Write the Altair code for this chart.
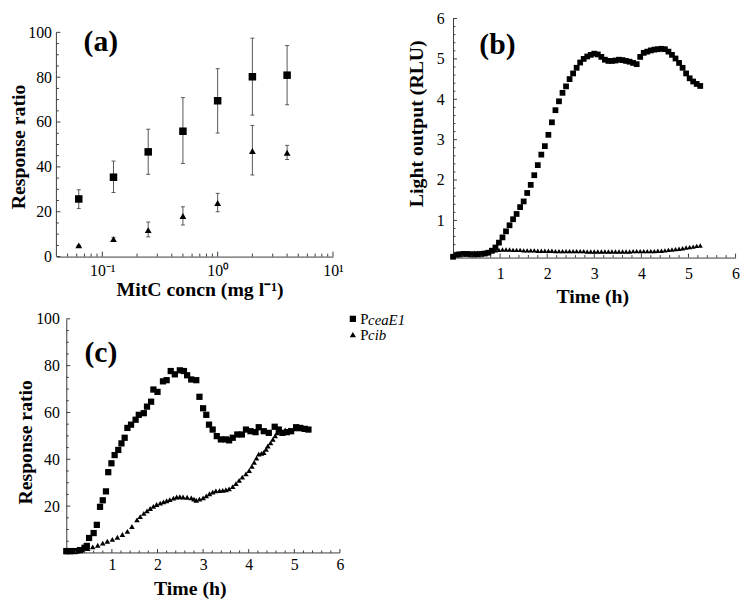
import altair as alt
import pandas as pd

FONT = "Liberation Serif"
AXC = "#3a3a3a"
BAR = "#555555"

# ---------------- panel (a) ----------------
MITC = [0.0625, 0.125, 0.25, 0.5, 1, 2, 4]
A_CEA = [25.7, 35.4, 46.7, 55.9, 69.5, 80.2, 80.9]
A_CEA_LO = [21.4, 28.6, 36.7, 41.5, 55.1, 63.1, 67.7]
A_CEA_HI = [29.8, 42.6, 56.8, 70.9, 83.8, 97.4, 94.1]
A_CIB = [5.0, 7.8, 11.8, 18.1, 23.9, 47.1, 46.3]
A_CIB_LO = [5.0, 7.0, 8.8, 14.1, 20.0, 36.4, 43.3]
A_CIB_HI = [5.0, 8.6, 15.4, 22.2, 28.2, 58.5, 49.6]

# ---------------- panel (b) ----------------
TIME_B = [0.0, 0.075, 0.15, 0.225, 0.3, 0.375, 0.45, 0.525, 0.6, 0.675, 0.75,
          0.825, 0.9, 0.975, 1.05, 1.125, 1.2, 1.275, 1.35, 1.425, 1.5,
          1.575, 1.65, 1.725, 1.8, 1.875, 1.95, 2.025, 2.1, 2.175, 2.25,
          2.325, 2.4, 2.475, 2.55, 2.625, 2.7, 2.775, 2.85, 2.925, 3.0,
          3.075, 3.15, 3.225, 3.3, 3.375, 3.45, 3.525, 3.6, 3.675, 3.75,
          3.825, 3.9, 3.975, 4.05, 4.125, 4.2, 4.275, 4.35, 4.425, 4.5,
          4.575, 4.65, 4.725, 4.8, 4.875, 4.95, 5.025, 5.1, 5.175, 5.25]
B_CEA = [0.10, 0.15, 0.16, 0.17, 0.17, 0.16, 0.16, 0.16, 0.17, 0.18,
         0.20, 0.25, 0.33, 0.45, 0.58, 0.73, 0.88, 1.03, 1.16, 1.33,
         1.47, 1.68, 1.88, 2.12, 2.37, 2.63, 2.84, 3.12, 3.43, 3.73,
         3.95, 4.16, 4.32, 4.50, 4.64, 4.78, 4.91, 5.00, 5.06, 5.10,
         5.13, 5.11, 5.05, 4.98, 4.95, 4.95, 4.96, 4.98, 4.97, 4.95,
         4.93, 4.90, 4.87, 5.05, 5.15, 5.18, 5.21, 5.23, 5.24, 5.25,
         5.24, 5.18, 5.10, 5.01, 4.90, 4.78, 4.64, 4.52, 4.44, 4.38, 4.33]
B_CIB = [0.12, 0.18, 0.19, 0.19, 0.19, 0.19, 0.20, 0.20, 0.20, 0.21, 0.22,
         0.24, 0.26, 0.27, 0.28, 0.28, 0.28, 0.27, 0.27, 0.27, 0.26,
         0.26, 0.26, 0.26, 0.25, 0.25, 0.25, 0.25, 0.25, 0.24, 0.24,
         0.24, 0.24, 0.24, 0.24, 0.24, 0.24, 0.24, 0.23, 0.23, 0.23,
         0.23, 0.23, 0.23, 0.23, 0.23, 0.23, 0.23, 0.23, 0.23, 0.23,
         0.24, 0.24, 0.24, 0.24, 0.24, 0.24, 0.24, 0.25, 0.25, 0.26,
         0.27, 0.28, 0.29, 0.30, 0.31, 0.33, 0.34, 0.35, 0.37, 0.38]

# ---------------- panel (c) ----------------
C_CEA_T = [0.0, 0.07, 0.18, 0.30, 0.40, 0.45, 0.50, 0.60, 0.67, 0.74, 0.80, 0.87,
           0.92, 0.99, 1.06, 1.14, 1.21, 1.28, 1.34, 1.42, 1.52, 1.59, 1.70,
           1.77, 1.86, 1.91, 2.00, 2.12, 2.20, 2.29, 2.38, 2.49, 2.58, 2.65,
           2.74, 2.85, 2.92, 3.00, 3.07, 3.13, 3.21, 3.30, 3.39, 3.50, 3.57,
           3.65, 3.75, 3.85, 3.94, 4.04, 4.15, 4.22, 4.33, 4.44, 4.57, 4.66,
           4.74, 4.84, 4.93, 5.04, 5.13, 5.23, 5.31]
C_CEA = [0.8, 0.8, 0.8, 1.2, 2.2, 3.0, 6.4, 8.5, 12.0, 19.7, 22.5, 26.3,
         34.5, 38.3, 41.8, 44.0, 46.8, 49.2, 53.4, 54.8, 56.9, 59.0, 59.7,
         62.5, 64.6, 69.8, 68.8, 73.3, 73.8, 77.7, 76.3, 78.0, 77.7, 75.9,
         74.1, 73.8, 66.7, 61.8, 59.0, 54.8, 52.7, 49.9, 48.5, 48.5, 48.1,
         49.2, 50.6, 50.6, 52.7, 52.0, 51.6, 53.7, 52.0, 51.3, 53.9, 52.7,
         51.3, 51.6, 52.0, 53.7, 53.4, 53.0, 52.7]
C_CIB_T = [0.0, 0.10, 0.25, 0.36, 0.47, 0.58, 0.69, 0.80, 0.90, 1.01, 1.12,
           1.23, 1.34, 1.44, 1.55, 1.62, 1.70, 1.77, 1.84, 1.91, 1.98, 2.06,
           2.13, 2.20, 2.27, 2.35, 2.42, 2.49, 2.56, 2.65, 2.74, 2.80, 2.85,
           2.92, 3.00, 3.07, 3.14, 3.21, 3.28, 3.36, 3.43, 3.50, 3.57, 3.65,
           3.72, 3.79, 3.86, 3.94, 4.01, 4.07, 4.12, 4.17, 4.22, 4.28, 4.33,
           4.38, 4.42, 4.48, 4.53, 4.58, 4.62, 4.70, 4.80, 4.90, 5.00, 5.10,
           5.20, 5.30]
C_CIB = [0.5, 0.5, 0.8, 1.3, 1.9, 2.6, 3.3, 4.2, 5.0, 5.8, 6.7,
         7.9, 9.2, 11.3, 14.1, 15.5, 16.9, 18.0, 19.0, 19.9, 20.7, 21.3,
         21.8, 22.3, 22.8, 23.4, 23.9, 24.0, 23.9, 23.8, 23.5, 23.0, 22.5,
         23.0, 23.5, 24.4, 25.3, 26.0, 26.5, 26.6, 26.7, 27.0, 27.4, 28.3,
         29.6, 31.0, 32.4, 33.8, 35.2, 37.0, 38.7, 40.5, 42.2, 42.5, 42.9,
         44.3, 45.7, 47.0, 48.5, 50.0, 51.3, 52.0, 52.5, 52.5, 53.0, 53.0,
         53.0, 53.0]
SERIES = ["PceaE1", "Pcib"]

# axis tick positions
A_Y_MAJOR = [0, 20, 40, 60, 80, 100]
A_Y_MINOR = [v for v in range(5, 100, 5) if v % 20]
A_X_MAJOR = [0.1, 1, 10]
A_X_MINOR = [0.05, 0.06, 0.07, 0.08, 0.09] + [k / 10 for k in range(2, 10)] + list(range(2, 10))
B_Y_MAJOR = [1, 2, 3, 4, 5, 6]
B_Y_MINOR = [round(k * 0.2, 1) for k in range(1, 30) if k % 5]
T_MAJOR = [1, 2, 3, 4, 5, 6]
T_MINOR = [round(k * 0.2, 1) for k in range(1, 30) if k % 5]
C_Y_MAJOR = [20, 40, 60, 80, 100]
C_Y_MINOR = [v for v in range(5, 100, 5) if v % 20]

# layout (pixels)
A_W, A_H, A_TOP = 280, 227, 14          # A_TOP: blank band above panel (a)
B_W, B_H = 286, 242
C_W, C_H, C_LEFT = 277, 237, 10         # C_LEFT: blank band left of panel (c)
LBL, TTL, PNL = 16, 20, 30              # font sizes


def axis(values, title, tx, ty, lpad, **kw):
    return alt.Axis(values=values, ticks=False, grid=False, domainColor=AXC, domainWidth=1,
                    labelFont=FONT, labelFontSize=LBL, labelColor="black", labelPadding=lpad,
                    labelFlush=False, labelOverlap=False,
                    title=title, titleFont=FONT, titleFontSize=TTL, titleFontWeight="bold",
                    titleColor="black", titleX=tx, titleY=ty, titleBaseline="middle", **kw)


def yticks(vals, length, scale, ax, x0=0):
    return alt.Chart(pd.DataFrame({"v": vals})).mark_rule(color=AXC, strokeWidth=1).encode(
        y=alt.Y("v:Q", scale=scale, axis=ax), x=alt.value(x0), x2=alt.value(x0 + length))


def xticks(vals, length, scale, ax, h):
    return alt.Chart(pd.DataFrame({"v": vals})).mark_rule(color=AXC, strokeWidth=1).encode(
        x=alt.X("v:Q", scale=scale, axis=ax), y=alt.value(h), y2=alt.value(h - length))


def panel_label(text, x, y):
    return alt.Chart(pd.DataFrame({"t": [text]})).mark_text(
        font=FONT, fontSize=PNL, fontWeight="bold", color="black", align="center", baseline="middle"
    ).encode(text="t:N", x=alt.value(x), y=alt.value(y))


# ---------- (a) ----------
A_HT = A_H + A_TOP
xa = alt.Scale(type="log", domain=[0.04, 10], nice=False)
ya = alt.Scale(domain=[0, 100 + A_TOP * 100 / A_H], nice=False)
df_a = pd.DataFrame({"x": MITC, "cea": A_CEA, "cea_lo": A_CEA_LO, "cea_hi": A_CEA_HI,
                     "cib": A_CIB, "cib_lo": A_CIB_LO, "cib_hi": A_CIB_HI})
base_a = alt.Chart(df_a)
ax_a = axis(A_X_MAJOR, "MitC concn (mg l⁻¹)", 145, 33, 6,
            labelExpr="datum.value < 0.5 ? '10⁻¹' : (datum.value < 5 ? '10⁰' : '10¹')")
ay_a = axis(A_Y_MAJOR, "Response ratio", -38.5, A_TOP + A_H / 2 + 2, 5, domain=False)
X_A = alt.X("x:Q", scale=xa, axis=ax_a)
layers_a = [
    alt.Chart(pd.DataFrame({"a": [0], "b": [100]})).mark_rule(color=AXC, strokeWidth=1).encode(
        y=alt.Y("a:Q", scale=ya, axis=ay_a), y2="b:Q", x=alt.value(0))
]
for lo, hi in [("cea_lo", "cea_hi"), ("cib_lo", "cib_hi")]:
    layers_a.append(base_a.mark_rule(color=BAR, strokeWidth=1).encode(
        x=X_A, y=alt.Y(f"{lo}:Q", scale=ya, axis=ay_a), y2=f"{hi}:Q"))
    for f in (lo, hi):
        layers_a.append(base_a.mark_tick(orient="horizontal", size=4, thickness=1, color=BAR, opacity=1).encode(
            x=X_A, y=alt.Y(f"{f}:Q", scale=ya, axis=ay_a)))
layers_a.append(base_a.mark_point(shape="square", filled=True, size=58, color="black", opacity=1).encode(
    x=X_A, y=alt.Y("cea:Q", scale=ya, axis=ay_a)))
layers_a.append(base_a.mark_point(shape="triangle-up", filled=True, size=48, color="black", opacity=1).encode(
    x=X_A, y=alt.Y("cib:Q", scale=ya, axis=ay_a)))
layers_a += [yticks(A_Y_MAJOR, 4, ya, ay_a), yticks(A_Y_MINOR, 2.5, ya, ay_a),
             xticks(A_X_MAJOR, 5, xa, ax_a, A_HT), xticks(A_X_MINOR, 3, xa, ax_a, A_HT),
             panel_label("(a)", 45, 23.5)]
pa = alt.layer(*layers_a).properties(width=A_W, height=A_HT)

# ---------- (b) ----------
xb = alt.Scale(domain=[0, 6], nice=False)
yb = alt.Scale(domain=[0.08, 6], nice=False)
df_b = pd.DataFrame({"t": TIME_B, "cea": B_CEA, "cib": B_CIB})
ax_b = axis(T_MAJOR, "Time (h)", 141, 39, 8)
ay_b = axis(B_Y_MAJOR, "Light output (RLU)", -37, 106, 9)
pb = alt.layer(
    alt.Chart(df_b).mark_point(shape="square", filled=True, size=34, color="black", opacity=1).encode(
        x=alt.X("t:Q", scale=xb, axis=ax_b), y=alt.Y("cea:Q", scale=yb, axis=ay_b)),
    alt.Chart(df_b).mark_point(shape="triangle-up", filled=True, size=26, color="black", opacity=1).encode(
        x=alt.X("t:Q", scale=xb, axis=ax_b), y=alt.Y("cib:Q", scale=yb, axis=ay_b)),
    yticks(B_Y_MAJOR, 4, yb, ay_b), yticks(B_Y_MINOR, 2.5, yb, ay_b),
    xticks(T_MAJOR, 4, xb, ax_b, B_H), xticks(T_MINOR, 2.5, xb, ax_b, B_H),
    panel_label("(b)", 45, 27),
).properties(width=B_W, height=B_H)

# ---------- (c) ----------
C_WT = C_W + C_LEFT
xc = alt.Scale(domain=[-C_LEFT * 6 / C_W, 6], nice=False)
yc = alt.Scale(domain=[0, 100], nice=False)
ax_c = axis(T_MAJOR, "Time (h)", C_LEFT + 125, 36, 4, domain=False)
ay_c = axis(C_Y_MAJOR, "Response ratio", -41.5, C_H / 2 + 6, 7, offset=-C_LEFT)
shape_enc = alt.Shape("s:N", scale=alt.Scale(domain=SERIES, range=["square", "triangle-up"]),
                      legend=alt.Legend(orient="none", legendX=292.6, legendY=296.5, title=None,
                                        labelFont=FONT, labelFontSize=15, labelColor="black",
                                        labelExpr="'P'", symbolSize=40, symbolFillColor="black",
                                        symbolStrokeColor="black", symbolStrokeWidth=0,
                                        rowPadding=0, labelOffset=0, padding=0))
df_c1 = pd.DataFrame({"t": C_CEA_T, "v": C_CEA, "s": SERIES[0]})
df_c2 = pd.DataFrame({"t": C_CIB_T, "v": C_CIB, "s": SERIES[1]})
legend_txt = pd.DataFrame({"t": ["ceaE1", "cib"]})
X_C = alt.X("t:Q", scale=xc, axis=ax_c)
pc = alt.layer(
    alt.Chart(pd.DataFrame({"a": [0], "b": [6]})).mark_rule(color=AXC, strokeWidth=1).encode(
        x=alt.X("a:Q", scale=xc, axis=ax_c), x2="b:Q", y=alt.value(C_H)),
    alt.Chart(df_c1).mark_point(filled=True, color="black", opacity=1, size=40).encode(
        x=X_C, y=alt.Y("v:Q", scale=yc, axis=ay_c), shape=shape_enc),
    alt.Chart(df_c2).mark_point(filled=True, color="black", opacity=1, size=32).encode(
        x=X_C, y=alt.Y("v:Q", scale=yc, axis=ay_c), shape=shape_enc),
    alt.Chart(legend_txt.iloc[[0]]).mark_text(font=FONT, fontSize=15, fontStyle="italic", color="black",
                                              align="left", baseline="middle").encode(
        text="t:N", x=alt.value(315.5), y=alt.value(1)),
    alt.Chart(legend_txt.iloc[[1]]).mark_text(font=FONT, fontSize=15, fontStyle="italic", color="black",
                                              align="left", baseline="middle").encode(
        text="t:N", x=alt.value(315.5), y=alt.value(16)),
    yticks(C_Y_MAJOR, 4, yc, ay_c, C_LEFT), yticks(C_Y_MINOR, 2.5, yc, ay_c, C_LEFT),
    xticks(T_MAJOR, 4, xc, ax_c, C_H), xticks(T_MINOR, 2.5, xc, ax_c, C_H),
    panel_label("(c)", 45, 34.5),
).properties(width=C_WT, height=C_H)

chart = alt.vconcat(
    alt.hconcat(pa, pb, spacing=62.5),
    pc,
    spacing=5,
).properties(padding={"left": 0, "top": -1, "right": 0, "bottom": 0}
             ).configure(font=FONT).configure_view(stroke=None)

chart.save("out.html", embed_options={"renderer": "svg", "actions": False})
